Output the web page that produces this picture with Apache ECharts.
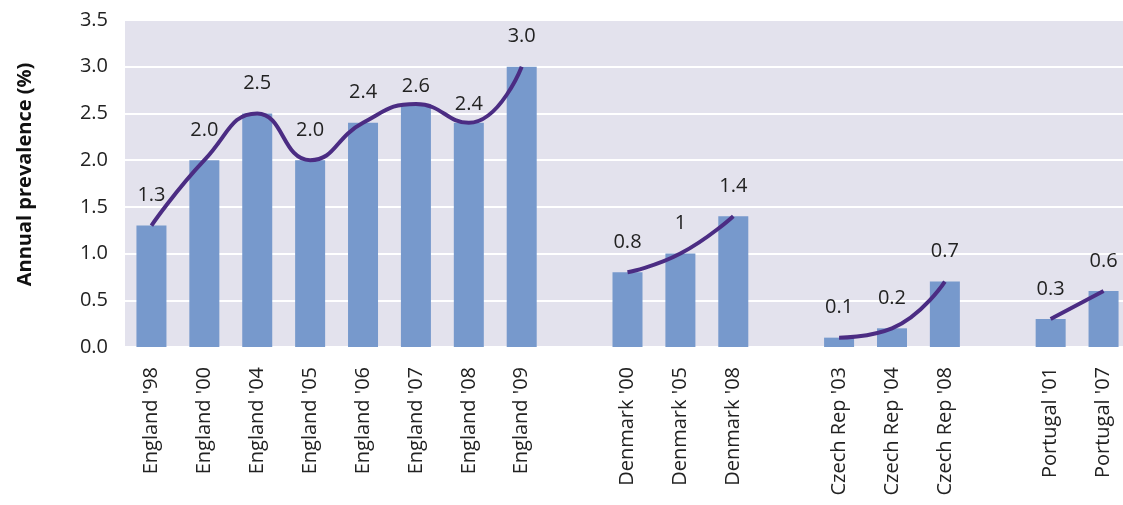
<!DOCTYPE html>
<html>
<head>
<meta charset="utf-8">
<title>Annual prevalence</title>
<script src="https://cdn.jsdelivr.net/npm/echarts@6/dist/echarts.min.js"></script>
<style>
  html, body { margin: 0; padding: 0; background: #fff; overflow: hidden; }
  /* plot runs slightly past the right edge in the original, so the chart is a bit wider than the window */
  #chart { width: 1130px; height: 505px; }
</style>
</head>
<body>
<div id="chart"></div>
<script>
// categories, empty strings are the gaps between countries
const categories = [
  "England '98", "England '00", "England '04", "England '05", "England '06", "England '07", "England '08", "England '09",
  "",
  "Denmark '00", "Denmark '05", "Denmark '08",
  "",
  "Czech Rep '03", "Czech Rep '04", "Czech Rep '08",
  "",
  "Portugal '01", "Portugal '07"
];
const prevalence = [
  1.3, 2.0, 2.5, 2.0, 2.4, 2.6, 2.4, 3.0,
  '-',
  0.8, 1, 1.4,
  '-',
  0.1, 0.2, 0.7,
  '-',
  0.3, 0.6
];
const yTicks = [0, 3.5, 0.5];  // min, max, step

// labels that sit closer to the bar in the original
const closeLabels = ["England '07", "England '08"];

var chartDom = document.getElementById('chart');
var myChart = echarts.init(chartDom);
var option;

const fontFam = '"Open Sans", "Noto Sans", sans-serif';

const barData = prevalence.map((v, i) => {
  if (v === '-') return '-';
  return {
    value: v,
    label: { distance: closeLabels.includes(categories[i]) ? 8 : 20 }
  };
});

option = {
  animation: false,
  grid: {
    left: 125,
    right: 0,
    top: 20,
    bottom: 158,
    show: true,
    backgroundColor: '#E3E2ED',
    borderWidth: 0
  },
  xAxis: {
    type: 'category',
    data: categories,
    axisLine: { show: false },
    axisTick: { show: false },
    axisLabel: {
      rotate: 90,
      interval: 0,
      margin: 20,
      color: '#222',
      fontFamily: fontFam,
      fontSize: 20
    }
  },
  yAxis: {
    type: 'value',
    min: yTicks[0],
    max: yTicks[1],
    interval: yTicks[2],
    name: 'Annual prevalence (%)',
    nameLocation: 'middle',
    nameGap: 90,
    nameTextStyle: {
      fontFamily: fontFam,
      fontWeight: 'bold',
      fontSize: 20,
      color: '#111',
      padding: [0, 0, 0, 18]
    },
    axisLine: { show: false },
    axisTick: { show: false },
    splitLine: { lineStyle: { color: '#ffffff', width: 2 } },
    axisLabel: {
      margin: 17,
      color: '#222',
      fontFamily: fontFam,
      fontSize: 20,
      formatter: function (v) { return v.toFixed(1); }
    }
  },
  series: [
    {
      name: 'bars',
      type: 'bar',
      barWidth: 30,
      itemStyle: { color: '#7799CC' },
      label: {
        show: true,
        position: 'top',
        color: '#222',
        fontFamily: fontFam,
        fontSize: 20,
        formatter: function (p) {
          return categories[p.dataIndex].startsWith('England') ? p.value.toFixed(1) : String(p.value);
        }
      },
      data: barData
    },
    {
      name: 'trend',
      type: 'line',
      smooth: 0.5,
      showSymbol: false,
      connectNulls: false,
      lineStyle: { color: '#4B2C83', width: 4 },
      data: prevalence
    }
  ]
};

option && myChart.setOption(option);
</script>
</body>
</html>
